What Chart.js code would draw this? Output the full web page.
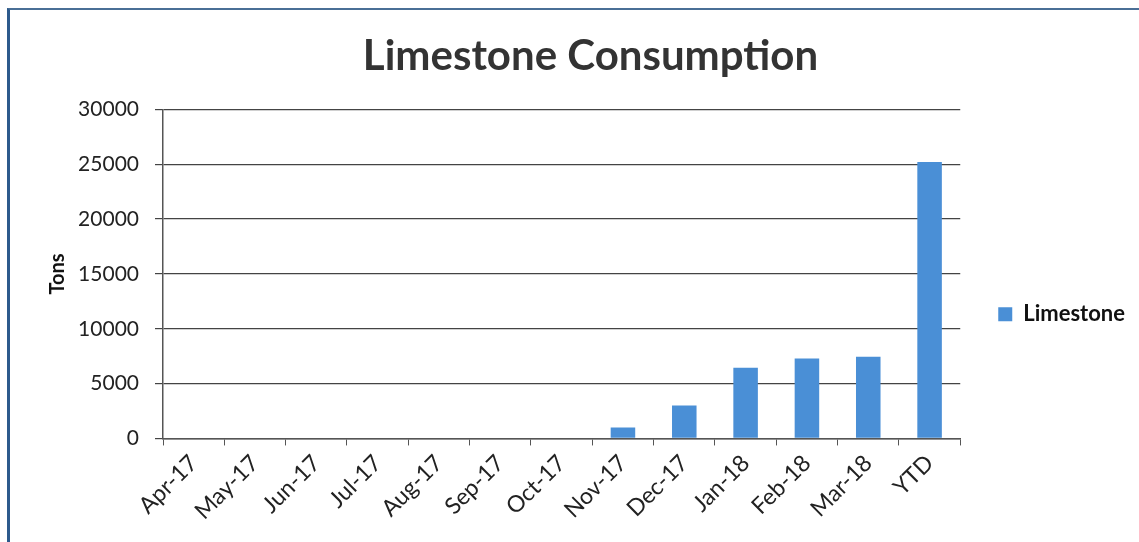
<!DOCTYPE html>
<html>
<head>
<meta charset="utf-8">
<script src="https://cdn.jsdelivr.net/npm/chart.js@4.4.1/dist/chart.umd.min.js"></script>
<style>
  html,body{margin:0;padding:0;background:#fff;}
  #wrap{position:relative;width:1139px;height:542px;}
  #frame{position:absolute;left:7px;top:8px;right:-4px;bottom:-4px;border-left:3px solid #2d5a8c;border-top:2px solid #4a6f96;}
  canvas{position:absolute;left:0;top:0;}
</style>
</head>
<body>
<div id="wrap">
  <div id="frame"></div>
  <canvas id="limeChart" width="1139" height="542"></canvas>
</div>
<script>
const months = ['Apr-17','May-17','Jun-17','Jul-17','Aug-17','Sep-17','Oct-17','Nov-17','Dec-17','Jan-18','Feb-18','Mar-18','YTD'];
const limestone = [0,0,0,0,0,0,0,1000,3000,6450,7300,7450,25200];
const yTicks = [0,5000,10000,15000,20000,25000,30000];

const FONT = 'Lato, "Open Sans", sans-serif';
const ctx = document.getElementById('limeChart').getContext('2d');
new Chart(ctx, {
  type:'bar',
  data:{ labels: months, datasets:[{ label:'Limestone', data: limestone,
    backgroundColor:'#4a8fd6', borderWidth:0,
    barPercentage:0.4, categoryPercentage:1.0 }]},
  options:{
    responsive:false, animation:false,
    layout:{ padding:{ left:46, right:4, top:31, bottom:13 } },
    plugins:{
      title:{ display:true, text:'Limestone Consumption', color:'#333',
        font:{ family:FONT, size:42, weight:'bold' }, padding:{ top:0, bottom:28 } },
      legend:{ position:'right',
        title:{ display:true, text:' ', font:{ size:12 }, padding:{ top:0, bottom:54 } },
        labels:{ color:'#111', boxWidth:14, boxHeight:14,
          font:{ family:FONT, size:22, weight:'bold' }, padding:38 } },
      tooltip:{ enabled:false }
    },
    scales:{
      x:{ grid:{ display:true, drawOnChartArea:false, color:'#555', tickLength:7 },
          border:{ color:'#555', width:1.5 },
          ticks:{ color:'#222', maxRotation:45, minRotation:45, font:{ family:FONT, size:23 }, padding:4 } },
      y:{ min:0, max:30000,
          afterBuildTicks: ax => { ax.ticks = yTicks.map(v => ({ value:v })); },
          afterFit: ax => { ax.width = 117; },
          grid:{ color:'#444', lineWidth:1.2, tickLength:8 },
          border:{ color:'#555', width:1.5 },
          title:{ display:true, text:'Tons', color:'#111', font:{ family:FONT, size:20, weight:'bold' }, padding:{ top:0, bottom:6 } },
          ticks:{ color:'#222', font:{ family:FONT, size:21 }, padding:16, callback: v => String(v) } }
    }
  }
});
</script>
</body>
</html>
